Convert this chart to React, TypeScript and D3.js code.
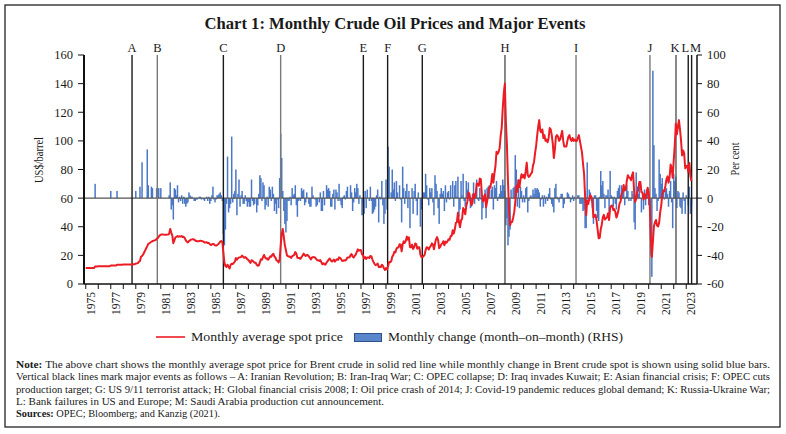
import React from 'react';
import * as d3 from 'd3';

// ---------- DATA ----------
// Monthly average Brent spot price (US$/barrel), Jan of first year onward
const price1975to1979 = [
  11.2, 11.2, 11.2, 11.2, 11.2, 11.2, 11.2, 11.2, 11.2, 12.3, 12.3, 12.3,
  12.4, 12.4, 12.4, 12.4, 12.4, 12.4, 12.4, 12.4, 12.4, 12.4, 12.4, 12.4,
  12.9, 12.9, 12.9, 12.9, 12.9, 12.9, 13.5, 13.5, 13.5, 13.5, 13.5, 13.5,
  13.6, 13.6, 13.6, 13.6, 13.6, 13.6, 13.7, 13.7, 13.7, 13.7, 13.8, 13.8,
  14.3, 14.4, 14.6, 15.6, 16.0, 19.0, 19.6, 20.5, 22.0, 23.5, 25.0, 26.5,
];
const price1980to1989 = [
  28.0, 28.5, 29.0, 29.5, 30.0, 30.2, 30.5, 30.7, 31.5, 32.0, 33.0, 34.0,
  34.5, 34.6, 34.6, 34.5, 34.4, 34.4, 34.5, 34.6, 35.0, 38.5, 36.0, 34.0,
  28.5, 30.5, 32.5, 33.0, 33.5, 33.0, 33.3, 33.2, 33.5, 32.8, 33.0, 32.0,
  30.5, 29.5, 29.0, 30.0, 30.5, 31.0, 31.2, 31.3, 31.0, 30.5, 30.0, 29.8,
  29.8, 30.0, 30.3, 30.0, 29.9, 29.6, 29.0, 29.0, 29.2, 28.6, 28.7, 27.8,
  27.2, 27.6, 28.0, 27.8, 27.0, 26.8, 27.2, 27.8, 28.6, 29.6, 30.0, 29.5,
  22.0, 15.0, 12.5, 12.0, 13.5, 12.0, 10.8, 13.5, 14.2, 14.0, 14.8, 15.6,
  18.2, 16.9, 18.0, 18.5, 18.6, 18.9, 19.9, 19.0, 18.3, 18.8, 18.3, 17.2,
  16.8, 15.7, 14.7, 16.6, 16.3, 15.5, 14.9, 14.9, 13.4, 12.7, 13.0, 15.1,
  17.2, 16.9, 18.7, 20.3, 18.6, 17.7, 17.9, 16.9, 18.2, 19.3, 19.0, 20.6,
];
const price1990to1999 = [
  21.1, 19.2, 18.4, 16.4, 16.3, 15.1, 17.1, 27.2, 35.0, 38.5, 33.0, 27.0,
  23.7, 20.0, 19.5, 19.1, 19.2, 18.2, 19.4, 19.8, 20.5, 22.3, 21.2, 18.4,
  18.2, 18.1, 17.6, 18.9, 19.9, 21.2, 20.2, 19.5, 20.2, 20.2, 19.3, 18.2,
  17.2, 18.5, 18.8, 18.7, 18.5, 17.5, 16.6, 16.6, 16.1, 16.7, 15.2, 13.8,
  14.5, 13.7, 13.7, 15.0, 15.9, 17.0, 17.8, 16.7, 15.7, 16.1, 17.1, 15.7,
  16.6, 17.2, 16.9, 18.6, 18.3, 17.3, 16.1, 16.2, 16.6, 16.4, 17.1, 18.5,
  18.5, 18.6, 20.2, 20.9, 19.1, 18.5, 19.7, 20.5, 22.5, 24.2, 23.2, 23.7,
  23.6, 20.8, 20.0, 17.8, 18.8, 17.5, 18.5, 18.6, 18.2, 19.6, 19.3, 17.1,
  15.4, 14.1, 13.2, 13.5, 14.3, 11.9, 12.1, 11.9, 13.4, 12.7, 11.0, 9.8,
  11.1, 10.3, 12.5, 15.3, 15.2, 15.9, 19.1, 20.2, 22.5, 22.0, 24.6, 25.5,
];
const price2000to2009 = [
  25.5, 27.8, 27.5, 22.8, 27.7, 29.8, 28.7, 30.2, 33.1, 31.0, 32.6, 25.7,
  25.6, 27.5, 24.5, 25.7, 28.3, 27.9, 24.6, 25.7, 25.6, 20.5, 18.8, 18.7,
  19.4, 20.3, 23.7, 25.7, 25.4, 24.1, 25.7, 26.7, 28.4, 27.5, 24.3, 28.3,
  31.2, 32.8, 30.6, 25.0, 25.9, 27.7, 28.4, 29.9, 27.1, 29.6, 28.8, 29.8,
  31.3, 30.9, 33.6, 33.6, 37.6, 35.2, 38.2, 42.7, 43.2, 49.8, 43.1, 39.6,
  44.5, 45.5, 53.1, 51.9, 48.7, 54.4, 57.5, 64.0, 62.9, 58.5, 55.2, 56.9,
  63.0, 60.2, 62.1, 70.3, 69.8, 68.6, 73.7, 73.2, 62.0, 57.8, 58.8, 62.5,
  53.7, 57.6, 62.1, 67.5, 67.2, 71.1, 76.9, 70.8, 77.2, 82.3, 92.4, 90.9,
  92.2, 95.0, 103.6, 109.1, 122.8, 133.5, 140.0, 113.2, 97.2, 71.6, 52.5, 41.0,
  43.4, 43.3, 46.5, 50.2, 57.3, 68.6, 64.4, 72.5, 67.7, 72.8, 76.7, 74.5,
];
const price2010to2019 = [
  76.2, 73.8, 78.8, 84.8, 76.0, 74.8, 75.6, 77.0, 77.8, 82.7, 85.3, 91.5,
  96.5, 103.7, 110.0, 114.5, 107.0, 106.0, 108.0, 102.0, 104.0, 100.0, 101.0, 99.0,
  102.0, 109.0, 108.0, 104.0, 98.0, 88.0, 94.0, 103.0, 104.0, 103.0, 100.0, 101.0,
  104.0, 107.0, 100.0, 96.0, 96.0, 96.0, 100.0, 103.0, 104.0, 101.0, 100.0, 102.0,
  100.0, 101.0, 100.0, 100.0, 102.0, 104.0, 100.0, 96.0, 92.0, 84.0, 77.0, 61.0,
  48.0, 58.1, 55.9, 59.5, 62.0, 61.0, 56.6, 46.5, 47.6, 48.4, 44.3, 38.0,
  32.0, 32.2, 38.2, 41.6, 46.7, 48.3, 45.0, 45.8, 46.6, 49.5, 44.7, 53.3,
  54.6, 54.9, 51.6, 52.3, 50.3, 46.4, 48.5, 51.7, 56.2, 57.5, 62.7, 64.4,
  69.1, 65.3, 66.0, 72.1, 76.0, 74.4, 74.3, 72.5, 76.0, 78.0, 64.8, 57.4,
  59.4, 64.0, 66.1, 71.2, 71.3, 64.2, 63.9, 59.0, 62.8, 59.7, 63.2, 67.3,
];
const price2020to2023 = [
  63.7, 55.7, 32.0, 19.0, 29.4, 40.3, 43.2, 44.7, 40.9, 40.2, 42.7, 50.0,
  54.8, 62.3, 65.4, 64.8, 68.5, 73.2, 75.2, 70.8, 74.5, 83.5, 81.1, 74.2,
  86.5, 97.1, 112.0, 104.6, 110.0, 114.5, 108.0, 100.5, 89.8, 93.3, 91.4, 80.9,
  82.5, 82.6, 78.4, 84.6, 75.5, 72.0,
];

// Monthly change, month-on-month (per cent, RHS)
const change1975to1979 = [
  0, 0, 0, 0, 0, 0, 0, 0, 0, 10, 0, 0,
  0, 0, 0, 0, 0, 0, 0, 0, 0, 0, 0, 0,
  5, 0, 0, 0, 0, 0, 5, 0, 0, 0, 0, 0,
  0, 0, 0, 0, 0, 0, 0, 0, 0, 0, 0, 0,
  5, 0, 0, 0, 8, 0, 25, 0, 0, 0, 0, 34,
];
const change1980to1989 = [
  9, 0, 0, 8, 7, 0, 0, 0, 7, 0, 7, 0,
  7, 0, 0, 0, 0, 0, 0, 0, 2, 11, -8, -5,
  -15, 7, 6, 2, 9, -3, 1, -2, 2, -4, 1, -4,
  -6, -4, -3, 4, 2, 1, 1, 0, -2, -2, -1, -1,
  0, 1, 1, -1, 0, -1, -2, 0, 1, -2, 1, -4,
  -2, 2, 8, -1, -3, -1, 2, 2, 3, 4, 2, -2,
  -25, -33, -22, -4, 29, -10, -7, -4, 43, -3, 3, 5,
  20, -12, 3, 13, -6, 2, 5, -4, -4, 2, -2, -6,
  -3, -6, -6, 13, -2, -5, -4, 0, -10, -5, 3, 16,
  14, -2, 11, 9, -8, -5, 1, -6, 8, 6, -2, 8,
];
const change1990to1999 = [
  3, -9, -4, -11, -1, -7, 14, 45, 28, 5, -9, -18,
  -24, -16, -2, -2, 1, -5, 7, 2, 3, 9, -5, -13,
  -2, -1, -2, 7, 5, 6, -5, -3, 4, 0, -4, -6,
  -6, 8, 2, 0, -1, -6, -5, 0, -3, 4, -9, -9,
  5, -5, 0, 9, 6, 7, 5, -6, -6, 3, 6, -8,
  6, 4, -2, 10, -2, -5, -7, 1, 2, -1, 5, 8,
  0, 0, 9, 4, -9, -3, 7, 4, 10, 7, -4, 2,
  0, -12, -4, -11, 5, -7, 6, 0, -2, 8, -2, -11,
  -10, -8, -6, 2, 6, -17, 1, -1, 12, -5, -18, -11,
  13, -8, 36, 22, 0, 4, 20, 6, 11, -2, 12, 4,
];
const change2000to2009 = [
  0, 9, -1, -17, 22, 7, -4, 5, 10, -7, 5, -21,
  0, 7, -11, 5, 10, -2, -12, 4, 0, -20, -8, 0,
  4, 4, 17, 9, -1, -5, 7, 4, 7, -3, -12, 16,
  10, 5, -7, -18, 3, 7, 3, 5, -9, 9, -3, 4,
  5, -1, 9, 0, 12, -6, 9, 12, 1, 15, -13, -8,
  12, 2, 17, -2, -6, 12, 6, 11, -2, -7, -6, 3,
  11, -4, 3, 13, -1, -2, 7, -1, -15, -7, 2, 6,
  -14, 7, 8, 9, 0, 6, 8, -8, 9, 7, 12, -2,
  1, 3, 9, 5, 13, 9, 5, -19, -14, -33, -27, -22,
  6, 0, 7, 8, 30, 20, -6, 13, -7, 8, 5, -3,
];
const change2010to2019 = [
  2, -3, 7, 8, -10, -2, 1, 2, 1, 6, 3, 7,
  6, 7, 6, 4, -6, -1, 2, -6, 2, -4, 1, -2,
  3, 7, -1, -4, -6, -10, 7, 10, 1, -1, -3, 1,
  3, 3, -7, -4, 0, 0, 4, 3, 1, -3, -1, 2,
  -2, 1, -1, 0, 2, 2, -4, -4, -4, -9, -8, -21,
  -21, 25, -4, 6, 4, -2, -7, -18, 2, 2, -9, -14,
  -16, 1, 19, 9, 12, 3, -7, 2, 2, 6, -10, 19,
  2, 1, -6, 1, -4, -8, 5, 7, 9, 2, 9, 3,
  7, -5, 1, 9, 5, -2, 0, -2, 5, 3, -17, -22,
  18, 8, 3, 8, 0, -10, 0, -8, 6, -5, 6, 6,
];
const change2020to2023 = [
  -5, -13, -40, -55, 89, 37, 7, 3, -9, -2, 27, 17,
  10, 14, 5, -1, 6, 7, 3, -6, 5, 12, -3, -21,
  17, 12, 15, -7, 5, 4, -6, -7, -11, 4, -2, -11,
  2, 0, -5, 8, -11, -5,
];

const firstYear = 1975;
const yearTicks = d3.range(1975, 2024);
const leftTicks = [0, 20, 40, 60, 80, 100, 120, 140, 160];
const rightTicks = [-60, -40, -20, 0, 20, 40, 60, 80, 100];

// Event dates (decimal years)
const eventLabels = ['A', 'B', 'C', 'D', 'E', 'F', 'G', 'H', 'I', 'J', 'K', 'L', 'M'];
const eventDates = [1978.7, 1980.72, 1986.0, 1990.58, 1997.19, 1999.13, 2001.9, 2008.51, 2014.19, 2020.1, 2022.18, 2023.16, 2023.43];
const eventColors = ['#1a1a1a', '#7a7a7a', '#1a1a1a', '#7a7a7a', '#1a1a1a', '#1a1a1a', '#1a1a1a', '#555555', '#7a7a7a', '#7a7a7a', '#555555', '#1a1a1a', '#1a1a1a'];
const eventLabelShift = [0, 0, 0, 0, 0, 0, 0, 0, 0, 0, -1, -3, 4];

const title = 'Chart 1: Monthly Crude Oil Prices and Major Events';
const legendPrice = 'Monthly average spot price';
const legendChange = 'Monthly change (month–on–month) (RHS)';
const noteLines = [
  'The above chart shows the monthly average spot price for Brent crude in solid red line while monthly change in Brent crude spot is shown using solid blue bars.',
  'Vertical black lines mark major events as follows – A: Iranian Revolution; B: Iran-Iraq War; C: OPEC collapse; D: Iraq invades Kuwait; E: Asian financial crisis; F: OPEC cuts',
  'production target; G: US 9/11 terrorist attack; H: Global financial crisis 2008; I: Oil price crash of 2014; J: Covid-19 pandemic reduces global demand; K: Russia-Ukraine War;',
  'L: Bank failures in US and Europe; M: Saudi Arabia production cut announcement.',
];
const sourceLine = 'OPEC; Bloomberg; and Kanzig (2021).';

// ---------- CHART ----------
const SERIF = '"Liberation Serif", "Times New Roman", serif';

export default function App() {
  const price = [
    ...price1975to1979, ...price1980to1989, ...price1990to1999,
    ...price2000to2009, ...price2010to2019, ...price2020to2023,
  ];
  const change = [
    ...change1975to1979, ...change1980to1989, ...change1990to1999,
    ...change2000to2009, ...change2010to2019, ...change2020to2023,
  ];
  const t = (i: number) => firstYear + i / 12;

  const x = d3.scaleLinear().domain([1974.86, 2023.86]).range([84, 697]);
  const yL = d3.scaleLinear().domain([0, 160]).range([284, 55]);
  const yR = d3.scaleLinear().domain([-60, 100]).range([284, 55]);

  const line = d3.line<number>()
    .x((_, i) => x(t(i)))
    .y((d) => yL(d))
    .curve(d3.curveLinear);

  const barW = 1.5;

  return (
    <svg width={786} height={434} style={{ position: 'fixed', left: 0, top: 0, background: '#fff' }}
      fontFamily={SERIF}>
      <rect x={0} y={0} width={786} height={434} fill="#fff" />
      <rect x={5} y={5} width={775} height={422} fill="none" stroke="#222" strokeWidth={1.3} />

      {/* Title */}
      <text x={395} y={29} textAnchor="middle" fontSize={17} fontWeight="bold" fill="#1a1a1a"
        textLength={381} lengthAdjust="spacingAndGlyphs">{title}</text>

      {/* Bars */}
      <g fill="#4a78c6">
        {change.map((v, i) => v === 0 ? null : (
          <rect key={i} x={x(t(i)) - barW / 2} width={barW}
            y={Math.min(yR(v), yR(0))} height={Math.abs(yR(v) - yR(0))} />
        ))}
      </g>

      {/* zero line of RHS */}
      <line x1={84} x2={697} y1={yR(0)} y2={yR(0)} stroke="#555" strokeWidth={1.3} />

      {/* Event lines */}
      {eventDates.map((d, k) => (
        <g key={k}>
          <line x1={x(d)} x2={x(d)} y1={55} y2={284} stroke={eventColors[k]} strokeWidth={1.4} />
          <text x={x(d) + eventLabelShift[k]} y={52} textAnchor="middle" fontSize={12.5} fill="#1a1a1a">
            {eventLabels[k]}
          </text>
        </g>
      ))}

      {/* Price line */}
      <path d={line(price) || ''} fill="none" stroke="#ec1c24" strokeWidth={2} strokeLinejoin="round" />

      {/* Left axis */}
      <line x1={84} x2={84} y1={55} y2={284} stroke="#111" strokeWidth={2} />
      {leftTicks.map((v) => (
        <g key={v}>
          <line x1={78} x2={84} y1={yL(v)} y2={yL(v)} stroke="#111" strokeWidth={1} />
          <text x={73} y={yL(v)} dy="0.35em" textAnchor="end" fontSize={12.5} fill="#1a1a1a">{v}</text>
        </g>
      ))}
      <text transform={`translate(43,160) rotate(-90)`} textAnchor="middle" fontSize={12} fill="#1a1a1a"
        textLength={46} lengthAdjust="spacingAndGlyphs">US$/barrel</text>

      {/* Right axis */}
      <line x1={697} x2={697} y1={55} y2={284} stroke="#111" strokeWidth={1.5} />
      {rightTicks.map((v) => (
        <g key={v}>
          <line x1={697} x2={702} y1={yR(v)} y2={yR(v)} stroke="#111" strokeWidth={1} />
          <text x={707} y={yR(v)} dy="0.35em" textAnchor="start" fontSize={12.5} fill="#1a1a1a">{v}</text>
        </g>
      ))}
      <text transform={`translate(739,159) rotate(-90)`} textAnchor="middle" fontSize={12} fill="#1a1a1a"
        textLength={33} lengthAdjust="spacingAndGlyphs">Per cent</text>

      {/* Bottom axis */}
      <line x1={84} x2={697} y1={284} y2={284} stroke="#111" strokeWidth={1.5} />
      {yearTicks.map((yr) => (
        <line key={yr} x1={x(yr)} x2={x(yr)} y1={284} y2={289} stroke="#111" strokeWidth={1} />
      ))}
      {yearTicks.filter((yr) => yr % 2 === 1).map((yr) => (
        <text key={yr} transform={`translate(${x(yr + 0.4)},292) rotate(-90)`} dy="0.35em"
          textAnchor="end" fontSize={11.5} fill="#1a1a1a">{yr}</text>
      ))}

      {/* Legend */}
      <line x1={156} x2={185} y1={337} y2={337} stroke="#ec1c24" strokeWidth={1.6} />
      <text x={191} y={341} fontSize={13} fill="#1a1a1a" textLength={152} lengthAdjust="spacingAndGlyphs">{legendPrice}</text>
      <rect x={354.5} y={333.5} width={27} height={8} fill="#5b86cb" stroke="#2d4f8c" strokeWidth={1} />
      <text x={388} y={341} fontSize={13} fill="#1a1a1a" textLength={235} lengthAdjust="spacingAndGlyphs">{legendChange}</text>

      {/* Notes */}
      <g fontSize={10.5} fill="#1a1a1a">
        <text x={16} y={368} textLength={754} lengthAdjust="spacingAndGlyphs">
          <tspan fontWeight="bold">Note: </tspan>{noteLines[0]}
        </text>
        <text x={16} y={380.3} textLength={754} lengthAdjust="spacingAndGlyphs">{noteLines[1]}</text>
        <text x={16} y={392.6} textLength={754} lengthAdjust="spacingAndGlyphs">{noteLines[2]}</text>
        <text x={16} y={404.6} textLength={368} lengthAdjust="spacingAndGlyphs">{noteLines[3]}</text>
        <text x={16} y={416.6} textLength={204} lengthAdjust="spacingAndGlyphs">
          <tspan fontWeight="bold">Sources: </tspan>{sourceLine}
        </text>
      </g>
    </svg>
  );
}
